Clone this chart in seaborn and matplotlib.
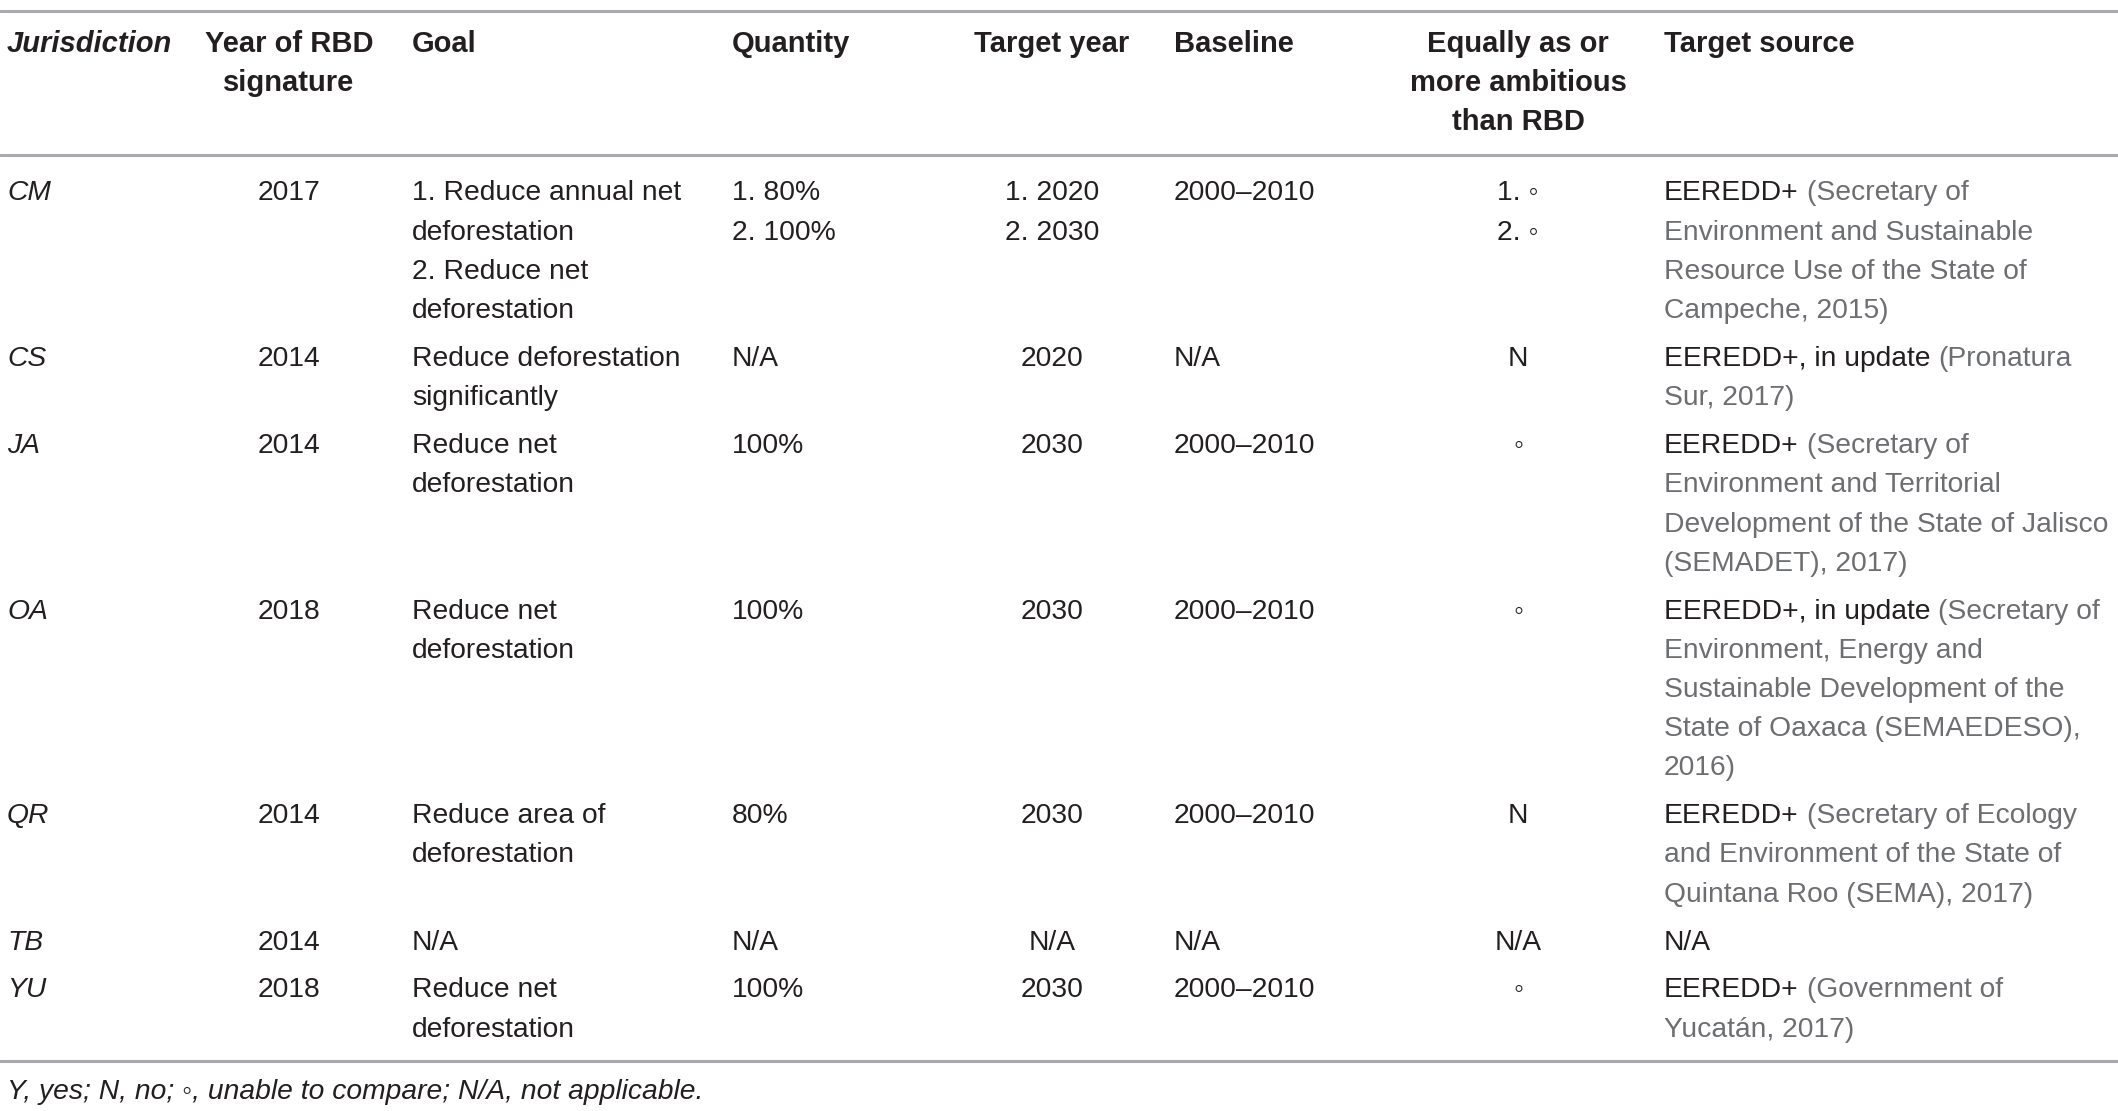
#Tabla de metas de deforestación por jurisdicción (firma RBD)
import seaborn as sns
import matplotlib.pyplot as plt

#Datos de la tabla
encabezados = [["Jurisdiction"], ["Year of RBD", "signature"], ["Goal"], ["Quantity"],
               ["Target year"], ["Baseline"], ["Equally as or", "more ambitious", "than RBD"],
               ["Target source"]]

jurisdicciones = ["CM", "CS", "JA", "OA", "QR", "TB", "YU"]
anios_firma = ["2017", "2014", "2014", "2018", "2014", "2014", "2018"]
metas = [["1. Reduce annual net", "deforestation", "2. Reduce net", "deforestation"],
         ["Reduce deforestation", "significantly"],
         ["Reduce net", "deforestation"],
         ["Reduce net", "deforestation"],
         ["Reduce area of", "deforestation"],
         ["N/A"],
         ["Reduce net", "deforestation"]]
cantidades = [["1. 80%", "2. 100%"], ["N/A"], ["100%"], ["100%"], ["80%"], ["N/A"], ["100%"]]
anios_meta = [["1. 2020", "2. 2030"], ["2020"], ["2030"], ["2030"], ["2030"], ["N/A"], ["2030"]]
lineas_base = [["2000–2010"], ["N/A"], ["2000–2010"], ["2000–2010"], ["2000–2010"], ["N/A"], ["2000–2010"]]
ambicion = [["1. ◦", "2. ◦"], ["N"], ["◦"], ["◦"], ["N"], ["N/A"], ["◦"]]
#fuente: (parte oscura, parte gris) por renglón
fuentes = [[("EEREDD+", "(Secretary of"), ("", "Environment and Sustainable"),
            ("", "Resource Use of the State of"), ("", "Campeche, 2015)")],
           [("EEREDD+, in update", "(Pronatura"), ("", "Sur, 2017)")],
           [("EEREDD+", "(Secretary of"), ("", "Environment and Territorial"),
            ("", "Development of the State of Jalisco"), ("", "(SEMADET), 2017)")],
           [("EEREDD+, in update", "(Secretary of"), ("", "Environment, Energy and"),
            ("", "Sustainable Development of the"), ("", "State of Oaxaca (SEMAEDESO),"),
            ("", "2016)")],
           [("EEREDD+", "(Secretary of Ecology"), ("", "and Environment of the State of"),
            ("", "Quintana Roo (SEMA), 2017)")],
           [("N/A", "")],
           [("EEREDD+", "(Government of"), ("", "Yucatán, 2017)")]]
nota = "Y, yes; N, no; ◦, unable to compare; N/A, not applicable."

#Estilo
sns.set_theme(style="white")
plt.rcParams["font.family"] = ["Liberation Sans", "DejaVu Sans"]

oscuro = "#231f20"
gris = "#6d6e71"
linea = "#a7a9ac"
tam = 20.3
tam_enc = 21

W, H = 2118, 1111
fig = plt.figure(figsize=(W / 100, H / 100), dpi=100)
ax = fig.add_axes([0, 0, 1, 1])
ax.set_xlim(0, W)
ax.set_ylim(H, 0)
ax.axis("off")

col_x = [7, 289, 412, 732, 1052, 1174, 1518, 1664]
col_ha = ["left", "center", "left", "left", "center", "left", "center", "left"]
alto_linea = 39.2
espacio = 8.7

#Reglas horizontales
for y in [11, 155, 1061]:
    ax.axhline(y, color=linea, lw=2.2)

#Encabezado
for j, enc in enumerate(encabezados):
    for k, txt in enumerate(enc):
        ax.text(col_x[j], 40.5 + k * alto_linea, txt, ha=col_ha[j], va="center_baseline",
                fontsize=tam_enc, fontweight="bold", color=oscuro,
                fontstyle="italic" if j == 0 else "normal")

#Filas
y0 = 190.5
for i in range(len(jurisdicciones)):
    celdas = [[jurisdicciones[i]], [anios_firma[i]], metas[i], cantidades[i],
              anios_meta[i], lineas_base[i], ambicion[i]]
    for j, celda in enumerate(celdas):
        for k, txt in enumerate(celda):
            ax.text(col_x[j], y0 + k * alto_linea, txt, ha=col_ha[j], va="center_baseline",
                    fontsize=tam, color=oscuro,
                    fontstyle="italic" if j == 0 else "normal")
    for k, (fuerte, suave) in enumerate(fuentes[i]):
        yk = y0 + k * alto_linea
        if fuerte:
            t = ax.text(col_x[7], yk, fuerte, ha="left", va="center_baseline",
                        fontsize=tam, color=oscuro)
            if suave:
                ax.annotate(suave, xy=(1, 0), xycoords=t, xytext=(0.28 * tam, 0),
                            textcoords="offset points", ha="left", va="bottom",
                            fontsize=tam, color=gris)
        else:
            ax.text(col_x[7], yk, suave, ha="left", va="center_baseline",
                    fontsize=tam, color=gris)
    n = max(len(c) for c in celdas + [fuentes[i]])
    y0 += n * alto_linea + espacio

#Nota al pie
ax.text(col_x[0], 1089, nota, ha="left", va="center_baseline", fontsize=tam,
        fontstyle="italic", color=oscuro)

fig.savefig("out.png", dpi=100)
